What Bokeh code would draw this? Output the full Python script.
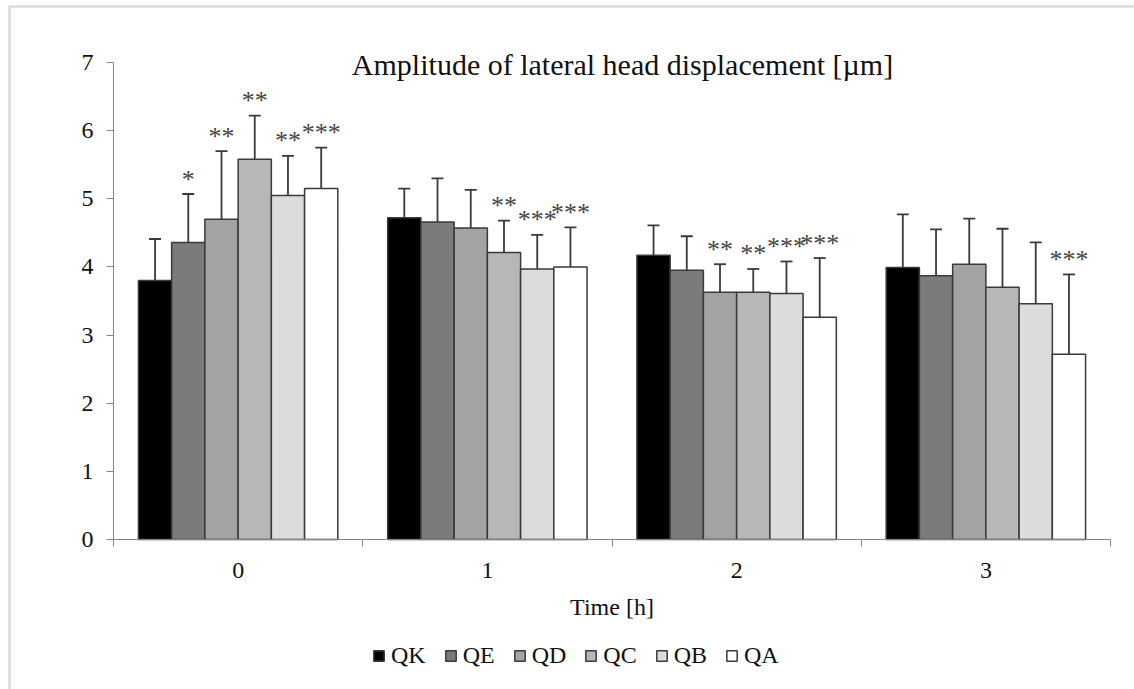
from bokeh.plotting import figure
from bokeh.models import (ColumnDataSource, FixedTicker, Whisker, TeeHead, Legend, LegendItem,
                          BoxAnnotation)
from bokeh.core.properties import value
from bokeh.embed import file_html
from bokeh.resources import INLINE

# ---------------- data ----------------
time_labels = ["0", "1", "2", "3"]
series = ["QK", "QE", "QD", "QC", "QB", "QA"]

mean_QK = [3.80, 4.72, 4.17, 3.99]
mean_QE = [4.36, 4.66, 3.95, 3.87]
mean_QD = [4.70, 4.57, 3.63, 4.04]
mean_QC = [5.58, 4.21, 3.63, 3.70]
mean_QB = [5.05, 3.97, 3.61, 3.46]
mean_QA = [5.15, 4.00, 3.26, 2.72]

sd_QK = [0.61, 0.43, 0.44, 0.78]
sd_QE = [0.71, 0.64, 0.50, 0.68]
sd_QD = [1.00, 0.56, 0.41, 0.67]
sd_QC = [0.64, 0.47, 0.34, 0.86]
sd_QB = [0.58, 0.50, 0.47, 0.90]
sd_QA = [0.60, 0.58, 0.87, 1.17]

sig_QK = ["", "", "", ""]
sig_QE = ["*", "", "", ""]
sig_QD = ["**", "", "**", ""]
sig_QC = ["**", "**", "**", ""]
sig_QB = ["**", "***", "***", ""]
sig_QA = ["***", "***", "***", "***"]

y_ticks = [0, 1, 2, 3, 4, 5, 6, 7]

title_text = "Amplitude of lateral head displacement [\u00b5m]"
x_title = "Time [h]"

# ---------------- styles ----------------
colors = ["#000000", "#7b7b7b", "#a3a3a3", "#b7b7b7", "#dcdcdc", "#ffffff"]
FONT = "Liberation Serif"
AXIS_GRAY = "#868686"
EDGE = "#3a3a3a"
TXT = "#111111"

means = [mean_QK, mean_QE, mean_QD, mean_QC, mean_QB, mean_QA]
sds = [sd_QK, sd_QE, sd_QD, sd_QC, sd_QB, sd_QA]
sigs = [sig_QK, sig_QE, sig_QD, sig_QC, sig_QB, sig_QA]

n_groups = len(time_labels)
n_series = len(series)
group_frac = 0.8
bar_w = group_frac / n_series

# page layout (pixels): the frame covers the whole canvas.
W, H = 1134, 689
X0_PX, X1_PX = 113, 1110          # category axis extent
Y0_PX, Y7_PX = 539, 62            # value 0 and value 7
x_px = (X1_PX - X0_PX) / n_groups
y_px = (Y0_PX - Y7_PX) / 7.0

def xd(px):
    return (px - X0_PX) / x_px

def yd(py):
    return (Y0_PX - py) / y_px

p = figure(width=W, height=H, x_range=(xd(0), xd(W)), y_range=(yd(H), yd(0)),
           output_backend="svg", toolbar_location=None,
           min_border_left=0, min_border_right=0, min_border_top=0, min_border_bottom=0)
p.outline_line_color = None
p.xgrid.grid_line_color = None
p.ygrid.grid_line_color = None
p.background_fill_color = "white"
p.border_fill_color = "white"

# chart-area border (left and top edges visible)
p.add_layout(BoxAnnotation(left=xd(9), top=yd(6), right=xd(W + 40), bottom=yd(H + 40),
                           fill_alpha=0, line_color="#898989", line_width=2.5,
                           level="underlay"))

legend_items = []
for j, name in enumerate(series):
    xs = [i + (1 - group_frac) / 2 + (j + 0.5) * bar_w for i in range(n_groups)]
    tops = [m + s for m, s in zip(means[j], sds[j])]
    src = ColumnDataSource(dict(x=xs, top=means[j], upper=tops, sig=sigs[j]))
    r = p.vbar(x="x", top="top", bottom=0, width=bar_w, source=src, fill_color=colors[j],
               line_color=EDGE, line_width=1.5)
    legend_items.append(LegendItem(label=name, renderers=[r]))
    w = Whisker(source=src, base="x", lower="top", upper="upper", dimension="height",
                line_color=EDGE, line_width=1.8, lower_head=None,
                upper_head=TeeHead(size=12, line_color=EDGE, line_width=1.8), level="overlay")
    p.add_layout(w)
    p.text(x="x", y="upper", text="sig", source=src, text_align="center",
           text_baseline="alphabetic", y_offset=-15, text_font=value(FONT),
           text_font_size="26px", text_color="#444444")

# title as text
p.text(x=[xd(622)], y=[yd(64)],
       text=[title_text], text_align="center", text_baseline="alphabetic",
       text_font=value(FONT), text_font_size="30px", text_color=TXT)

# x axis drawn at y = 0
xa = p.xaxis[0]
xa.fixed_location = 0
xa.bounds = (0, n_groups)
centers = [i + 0.5 for i in range(n_groups)]
xa.ticker = FixedTicker(ticks=centers, minor_ticks=list(range(n_groups + 1)))
xa.major_label_overrides = {c: lab for c, lab in zip(centers, time_labels)}
xa.major_tick_out = 0
xa.major_tick_in = 0
xa.minor_tick_out = 7
xa.minor_tick_in = 0
xa.minor_tick_line_color = AXIS_GRAY
xa.axis_line_color = AXIS_GRAY
xa.major_label_text_font = FONT
xa.major_label_text_font_size = "24px"
xa.major_label_text_color = TXT
xa.major_label_standoff = 16
xa.axis_label = x_title
xa.axis_label_text_font = FONT
xa.axis_label_text_font_style = "normal"
xa.axis_label_text_font_size = "24px"
xa.axis_label_text_color = TXT
xa.axis_label_standoff = 13

# y axis drawn at x = 0
ya = p.yaxis[0]
ya.fixed_location = 0
ya.ticker = FixedTicker(ticks=y_ticks, minor_ticks=[])
ya.bounds = (0, 7)
ya.major_tick_out = 7
ya.major_tick_in = 0
ya.major_tick_line_color = AXIS_GRAY
ya.axis_line_color = AXIS_GRAY
ya.major_label_text_font = FONT
ya.major_label_text_font_size = "24px"
ya.major_label_text_color = TXT
ya.major_label_standoff = 13

legend = Legend(items=legend_items, orientation="horizontal", location=(372, 20),
                glyph_width=13, glyph_height=13, label_standoff=6, spacing=18,
                padding=0, margin=0, border_line_color=None, background_fill_alpha=0,
                label_text_font=FONT, label_text_font_size="24px",
                label_text_color=TXT)
p.add_layout(legend, "center")

open("out.html", "w").write(file_html(p, INLINE))
